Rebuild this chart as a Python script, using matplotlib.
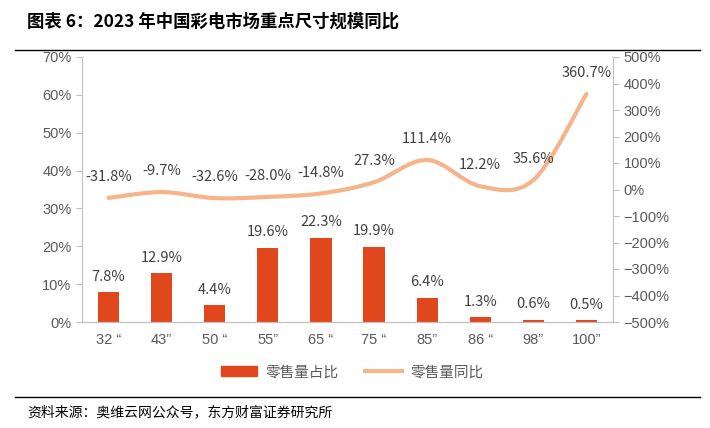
import matplotlib
matplotlib.use("Agg")
import matplotlib.pyplot as plt
from matplotlib.path import Path
from matplotlib.patches import PathPatch, Patch
from matplotlib.lines import Line2D
from matplotlib.ticker import FuncFormatter

plt.rcParams['font.family'] = ['Noto Sans CJK SC', 'DejaVu Sans']

sizes = ['32 “', '43”', '50 “', '55”', '65 “', '75 “', '85”', '86 “', '98”', '100”']
share = [7.8, 12.9, 4.4, 19.6, 22.3, 19.9, 6.4, 1.3, 0.6, 0.5]
yoy = [-31.8, -9.7, -32.6, -28.0, -14.8, 27.3, 111.4, 12.2, 35.6, 360.7]

bar_color = '#E1471D'
line_color = '#F5B48A'
grey = '#595959'

fig = plt.figure(figsize=(7.1, 4.28), dpi=100)
ax = fig.add_axes([82 / 710, 106 / 428, 531 / 710, 265 / 428])
ax2 = ax.twinx()

x = list(range(len(sizes)))
ax.bar(x, share, width=0.4, color=bar_color, zorder=2)
for xi, v in zip(x, share):
    ax.annotate(f'{v:.1f}%', (xi, v), xytext=(0, 6), textcoords='offset points',
                ha='center', va='bottom', fontsize=10.5, color='#404040')

# smoothed line (bezier through the data points, like the office "smooth line")
verts = [(x[0], yoy[0])]
codes = [Path.MOVETO]
n = len(x)
for i in range(n - 1):
    p0 = (x[max(i - 1, 0)], yoy[max(i - 1, 0)])
    p1 = (x[i], yoy[i])
    p2 = (x[i + 1], yoy[i + 1])
    p3 = (x[min(i + 2, n - 1)], yoy[min(i + 2, n - 1)])
    c1 = (p1[0] + (p2[0] - p0[0]) / 6, p1[1] + (p2[1] - p0[1]) / 6)
    c2 = (p2[0] - (p3[0] - p1[0]) / 6, p2[1] - (p3[1] - p1[1]) / 6)
    verts += [c1, c2, p2]
    codes += [Path.CURVE4] * 3
ax2.add_patch(PathPatch(Path(verts, codes), fill=False, edgecolor=line_color,
                        linewidth=3, capstyle='round', zorder=3))
for xi, v in zip(x, yoy):
    ax2.annotate(f'{v:.1f}%', (xi, v), xytext=(0, 10), textcoords='offset points',
                 ha='center', va='bottom', fontsize=10.5, color='#404040')

ax.set_xlim(-0.5, len(sizes) - 0.5)
ax.set_ylim(0, 70)
ax.set_yticks(range(0, 71, 10))
ax.yaxis.set_major_formatter(FuncFormatter(lambda v, p: f'{v:.0f}%'))
ax2.set_ylim(-500, 500)
ax2.set_yticks(range(-500, 501, 100))
ax2.yaxis.set_major_formatter(FuncFormatter(lambda v, p: f'{v:.0f}%'.replace('-', '−')))
ax.set_xticks(x)
ax.set_xticklabels(sizes)

for a in (ax, ax2):
    a.spines['top'].set_visible(False)
    for s in ('left', 'right', 'bottom'):
        a.spines[s].set_color('#BFBFBF')
    a.tick_params(colors='#BFBFBF', labelcolor=grey, labelsize=10.5, length=4)
ax.tick_params(axis='x', length=0, pad=8)
ax2.spines['left'].set_visible(False)
ax.spines['right'].set_visible(False)
for lab in ax.get_yticklabels() + ax2.get_yticklabels() + ax.get_xticklabels():
    lab.set_family(['Liberation Sans', 'DejaVu Sans'])

handles = [Patch(color=bar_color), Line2D([], [], color=line_color, lw=3)]
fig.legend(handles, ['零售量占比', '零售量同比'], loc='center', bbox_to_anchor=(0.496, 0.13),
           ncol=2, frameon=False, fontsize=10.5, handlelength=2.5, handletextpad=0.6,
           columnspacing=1.8, labelcolor=grey)

fig.text(27 / 710, 1 - 22 / 428, '图表 6：2023 年中国彩电市场重点尺寸规模同比',
         fontsize=12.5, fontweight='heavy', va='center', ha='left')
fig.add_artist(Line2D([15 / 710, 700 / 710], [1 - 50 / 428] * 2, color='black', lw=1))
fig.add_artist(Line2D([15 / 710, 700 / 710], [1 - 397 / 428] * 2, color='black', lw=1))
fig.text(27 / 710, 1 - 412 / 428, '资料来源：奥维云网公众号，东方财富证券研究所',
         fontsize=10, va='center', ha='left')

fig.savefig('out.png', dpi=100)
